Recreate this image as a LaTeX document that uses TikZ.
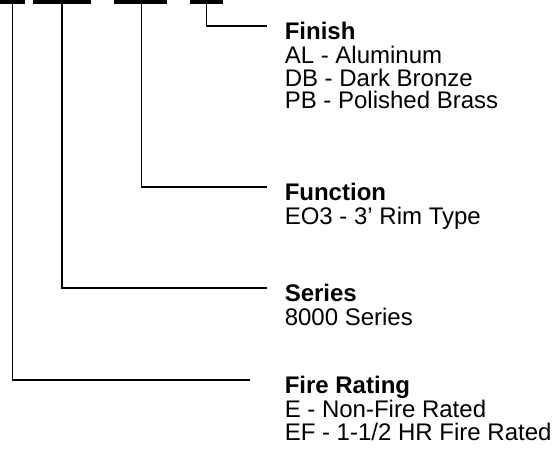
\documentclass[tikz,border=0pt]{standalone}
\usepackage{fontspec}
\setmainfont{Liberation Sans}
\usetikzlibrary{positioning}

\begin{document}
\begin{tikzpicture}[x=1pt, y=-1pt, line width=1.5pt,
    bar/.style={fill, inner sep=0pt, minimum height=3.5pt},
    head/.style={font=\fontsize{24pt}{22.5pt}\selectfont\bfseries, anchor=west,
        inner xsep=17pt, inner ysep=0pt, text height=26pt, text depth=0pt},
    items/.style={font=\fontsize{24pt}{22.5pt}\selectfont, align=left,
        inner xsep=17pt, inner ysep=0pt}]
    \useasboundingbox (0,0) rectangle (555,453);

    % code bars along the top
    \node[bar, minimum width=25pt] (b1) at (12.5,1.75) {};
    \node[bar, minimum width=58pt] (b2) at (62,1.75) {};
    \node[bar, minimum width=53pt] (b3) at (140,1.75) {};
    \node[bar, minimum width=33pt] (b4) at (206.5,1.75) {};

    % headings
    \node[head] (finish) at (267,26) {Finish};
    \node[head] (function) at (267,187) {Function};
    \node[head] (series) at (267,288) {Series};
    \node[head] (rating) at (250,380) {\hspace{17pt}Fire Rating};

    % option lists
    \node[items, below=6pt of finish.south west, anchor=north west] (finishopts)
        {AL - Aluminum\\DB - Dark Bronze\\PB - Polished Brass};
    \node[items, below=6pt of function.south west, anchor=north west] (functionopts)
        {EO3 - 3' Rim Type};
    \node[items, below=6pt of series.south west, anchor=north west] (seriesopts)
        {8000 Series};
    \node[items, below=6pt of rating.south west, anchor=north west] (ratingopts)
        {\hspace{17pt}E - Non-Fire Rated\\\hspace{17pt}EF - 1-1/2 HR Fire Rated};

    \draw (b4.south) |- (finish.west);
    \draw ([xshift=1.5pt]b3.south) |- (function.west);
    \draw (b2.south) |- (series.west);
    \draw (b1.south) |- (rating.west);
\end{tikzpicture}
\end{document}
